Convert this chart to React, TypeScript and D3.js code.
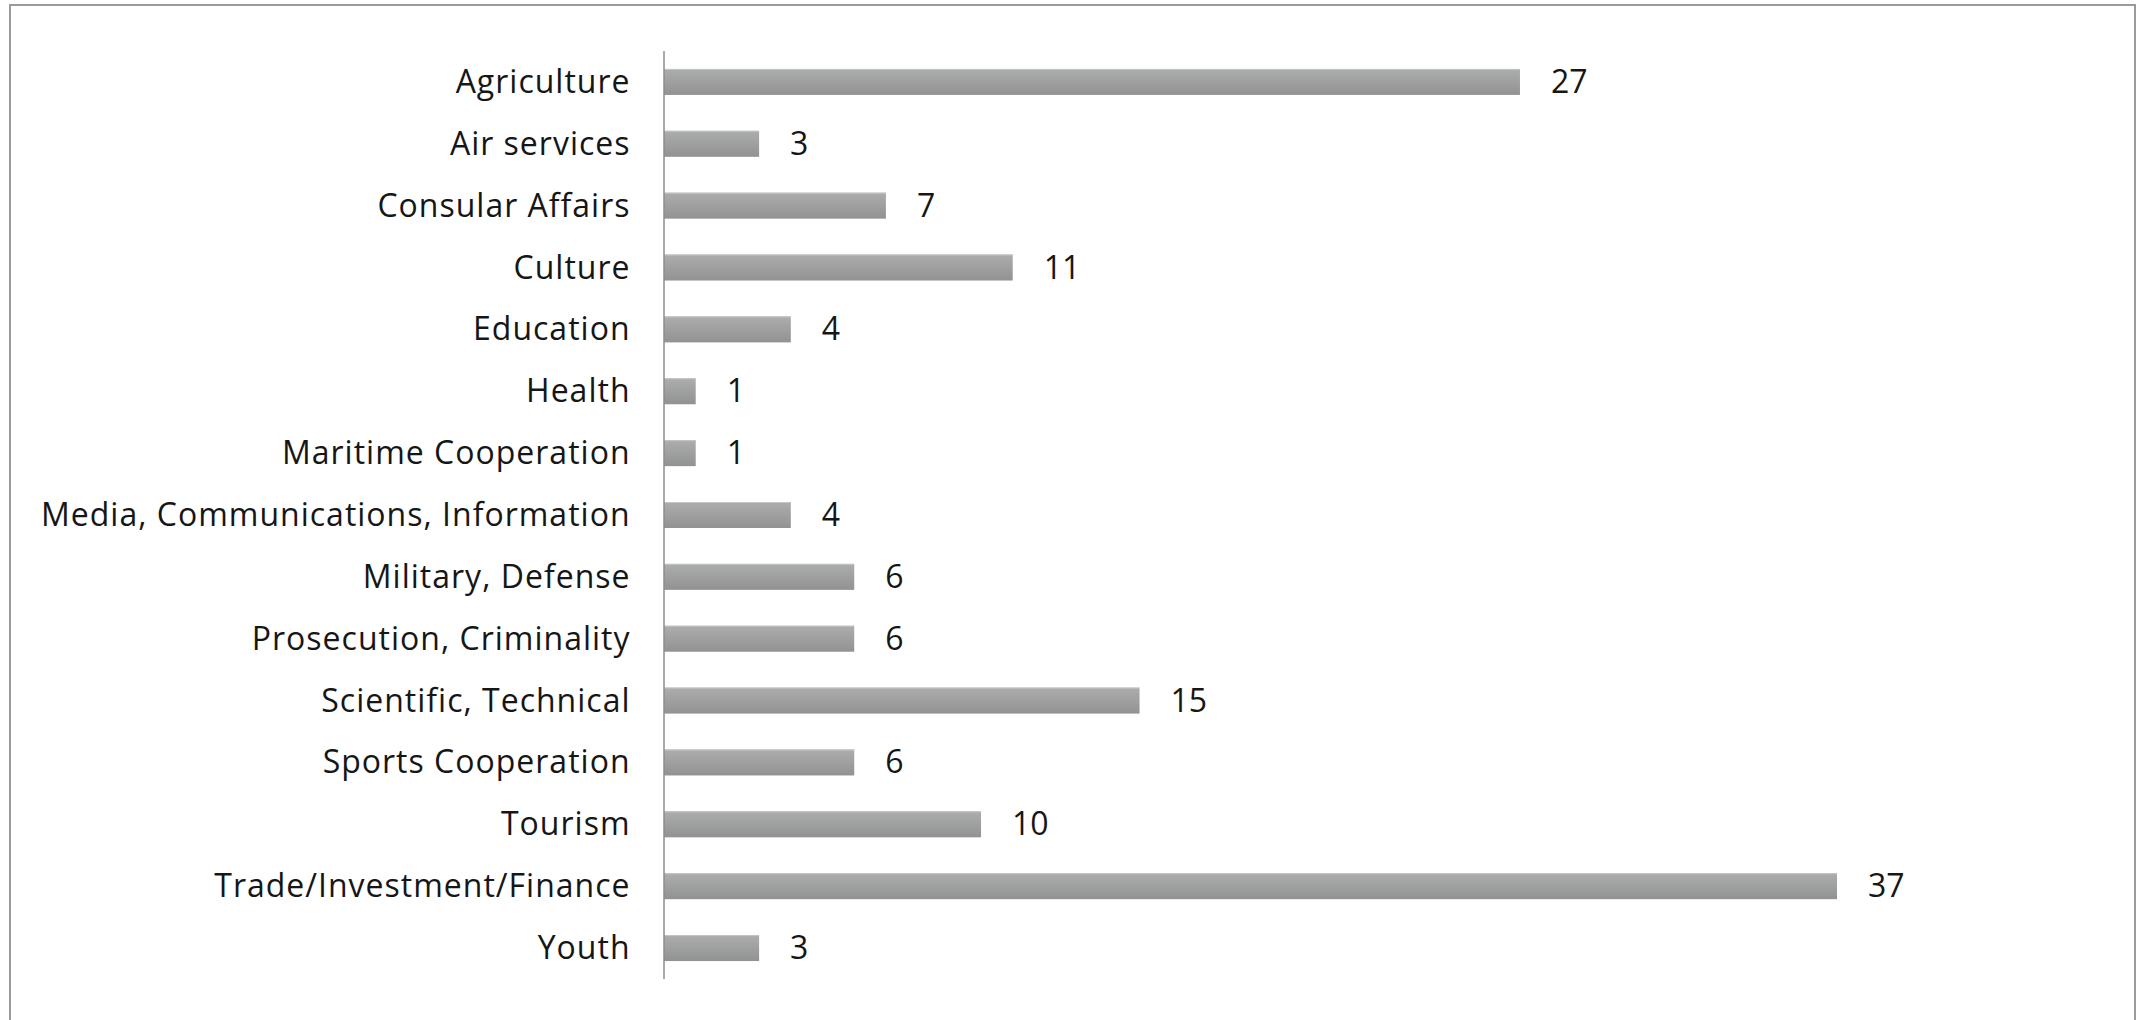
import React from "react";
import * as d3 from "d3";

// Agreement counts by area of cooperation
const categories = [
  "Agriculture",
  "Air services",
  "Consular Affairs",
  "Culture",
  "Education",
  "Health",
  "Maritime Cooperation",
  "Media, Communications, Information",
  "Military, Defense",
  "Prosecution, Criminality",
  "Scientific, Technical",
  "Sports Cooperation",
  "Tourism",
  "Trade/Investment/Finance",
  "Youth",
];
const counts = [27, 3, 7, 11, 4, 1, 1, 4, 6, 6, 15, 6, 10, 37, 3];

const WIDTH = 2141;
const HEIGHT = 1020;
const FONT = "'Open Sans', 'Noto Sans', sans-serif";
const FONT_SIZE = 32;

export default function App() {
  const x = d3.scaleLinear().domain([0, 37]).range([664, 1837]);
  const y = d3
    .scaleBand<string>()
    .domain(categories)
    .range([51, 979])
    .paddingInner(0.58)
    .paddingOuter(0.29);

  const [x0] = x.range();
  const [yTop, yBottom] = y.range();

  return (
    <svg
      width={WIDTH}
      height={HEIGHT}
      style={{ position: "absolute", left: 0, top: 0, background: "#fff" }}
    >
      <defs>
        <linearGradient id="barFill" x1="0" y1="0" x2="0" y2="1">
          <stop offset="0" stopColor="#acadad" />
          <stop offset="1" stopColor="#929292" />
        </linearGradient>
      </defs>
      <rect x={0} y={0} width={WIDTH} height={HEIGHT} fill="#fff" />
      {/* frame */}
      <rect
        x={10}
        y={5}
        width={2125}
        height={1030}
        fill="none"
        stroke="#9a9a9a"
        strokeWidth={2}
      />

      {categories.map((c, i) => {
        const by = y(c)!;
        const bh = y.bandwidth();
        const cy = by + bh / 2;
        const xe = x(counts[i]);
        return (
          <g key={c}>
            <rect
              x={x0}
              y={by}
              width={xe - x0}
              height={bh}
              fill="url(#barFill)"
            />
            <line
              x1={x0}
              x2={xe}
              y1={by + 0.5}
              y2={by + 0.5}
              stroke="#c4c4c4"
              strokeWidth={1}
            />
            <text
              x={630.5}
              y={cy + 11}
              textAnchor="end"
              fontFamily={FONT}
              fontSize={FONT_SIZE}
              letterSpacing={1}
              fill="#161616"
            >
              {c}
            </text>
            <text
              x={xe + 31}
              y={cy + 11}
              fontFamily={FONT}
              fontSize={FONT_SIZE}
              fill="#161616"
            >
              {counts[i]}
            </text>
          </g>
        );
      })}

      {/* category axis */}
      <line
        x1={x0}
        x2={x0}
        y1={yTop}
        y2={yBottom}
        stroke="#8c8c8c"
        strokeWidth={1.5}
      />
    </svg>
  );
}
